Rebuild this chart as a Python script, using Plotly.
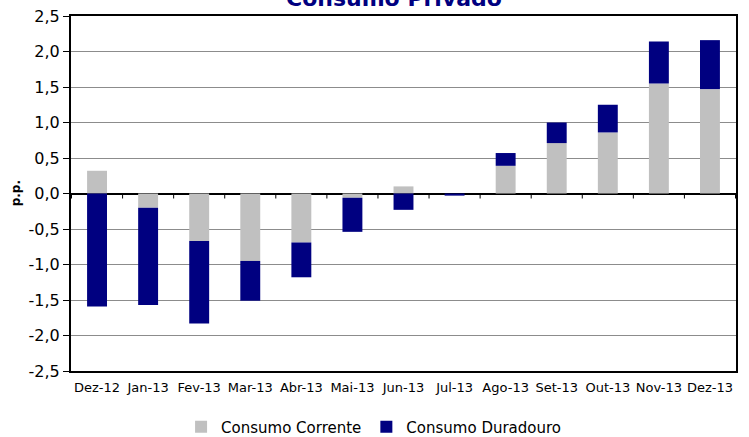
import plotly.graph_objects as go

categories = ["Dez-12", "Jan-13", "Fev-13", "Mar-13", "Abr-13", "Mai-13", "Jun-13",
              "Jul-13", "Ago-13", "Set-13", "Out-13", "Nov-13", "Dez-13"]
consumo_corrente = [0.32, -0.20, -0.67, -0.95, -0.69, -0.06, 0.10,
                    0.00, 0.39, 0.71, 0.86, 1.55, 1.47]
consumo_duradouro = [-1.59, -1.37, -1.16, -0.56, -0.49, -0.48, -0.23,
                     -0.03, 0.18, 0.29, 0.39, 0.59, 0.69]
y_ticks = [-2.5, -2.0, -1.5, -1.0, -0.5, 0.0, 0.5, 1.0, 1.5, 2.0, 2.5]
y_tick_text = [f"{v:.1f}".replace(".", ",") for v in y_ticks]

FONT = "DejaVu Sans"

fig = go.Figure()
fig.add_trace(go.Bar(x=categories, y=consumo_corrente, name="Consumo Corrente",
                     marker=dict(color="#C0C0C0", line=dict(width=0))))
fig.add_trace(go.Bar(x=categories, y=consumo_duradouro, name="Consumo Duradouro",
                     marker=dict(color="#000080", line=dict(width=0))))

# tick marks on the zero line at category boundaries
shapes = []
for i in range(len(categories) + 1):
    shapes.append(dict(type="line", xref="x", yref="y", x0=i - 0.5, x1=i - 0.5,
                       ysizemode="pixel", yanchor=0, y0=0, y1=-5,
                       line=dict(color="black", width=1)))

fig.update_layout(
    width=749, height=437,
    margin=dict(l=71, r=13, t=16, b=66, autoexpand=False),
    paper_bgcolor="white", plot_bgcolor="white",
    barmode="relative", bargap=0.61,
    font=dict(family=FONT, color="black"),
    showlegend=True,
    legend=dict(orientation="h", x=0.455, xanchor="center",
                y=-0.158, yanchor="middle",
                font=dict(family=FONT, size=15, color="black"),
                itemwidth=30, traceorder="normal"),
    shapes=shapes,
    annotations=[
        dict(text="<b>Consumo Privado</b>", xref="paper", yref="paper",
             x=0.486, y=1.05, xanchor="center", yanchor="middle", showarrow=False,
             font=dict(family=FONT, size=22, color="#000080")),
        dict(text="<b>p.p.</b>", xref="paper", yref="paper", x=-0.083, y=0.5,
             xanchor="center", yanchor="middle", textangle=-90, showarrow=False,
             font=dict(family=FONT, size=12, color="black")),
    ],
)
fig.update_xaxes(
    type="category", categoryorder="array", categoryarray=categories,
    showline=True, linecolor="black", linewidth=1.5, mirror=True,
    showgrid=False, ticks="", tickfont=dict(family=FONT, size=13, color="black"),
    ticklabelstandoff=4,
)
fig.update_yaxes(
    range=[-2.5, 2.5], tickvals=y_ticks, ticktext=y_tick_text,
    showline=True, linecolor="black", linewidth=2, mirror=True,
    ticks="outside", ticklen=6, tickcolor="black", tickwidth=1,
    showgrid=True, gridcolor="#8C8C8C", gridwidth=1,
    zeroline=True, zerolinecolor="black", zerolinewidth=2,
    tickfont=dict(family=FONT, size=16, color="black"),
)

fig.write_html("out.html", config={"displayModeBar": False},
               post_script="document.body.style.margin='0';document.body.style.padding='0';")
